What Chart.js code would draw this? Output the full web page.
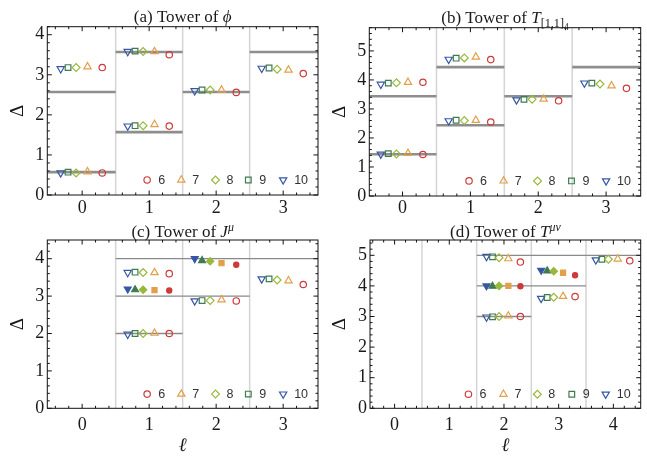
<!DOCTYPE html>
<html><head><meta charset="utf-8">
<script src="https://cdn.jsdelivr.net/npm/chart.js@4.4.1/dist/chart.umd.min.js"></script>
<style>
html,body{margin:0;padding:0;background:#fff;}
#wrap{position:relative;width:647px;height:458px;background:#fff;}
canvas{position:absolute;left:0;top:0;}
</style></head><body>
<div id="wrap">
<canvas id="pa" width="647" height="458"></canvas>
<canvas id="pb" width="647" height="458"></canvas>
<canvas id="pc" width="647" height="458"></canvas>
<canvas id="pd" width="647" height="458"></canvas>
</div>
<script>
// ---------------- data ----------------
const sizes = [6, 7, 8, 9, 10];
const xShift = [0.30, 0.08, -0.09, -0.21, -0.32];
const colors = ['#cd3a3a', '#e3a04a', '#98b83c', '#3e7b50', '#3656a6'];
const openShape = ['circle', 'triangle', 'rectRot', 'rect', 'triangleDown'];
const filledShape = ['circle', 'rect', 'rectRot', 'triangle', 'triangleDown'];

// (a) Tower of phi
const ellA = [0, 0, 1, 1, 2, 3];
const filledA = [0, 0, 0, 0, 0, 0];
const deltaA6 = [0.55, 3.18, 1.72, 3.50, 2.56, 3.03];
const deltaA7 = [0.58, 3.20, 1.76, 3.58, 2.62, 3.12];
const deltaA8 = [0.55, 3.18, 1.73, 3.58, 2.62, 3.14];
const deltaA9 = [0.57, 3.18, 1.73, 3.59, 2.62, 3.17];
const deltaA10 = [0.55, 3.15, 1.72, 3.58, 2.60, 3.16];
const refFromA = [-0.5, -0.5, 0.5, 0.5, 1.5, 2.5];
const refToA = [0.5, 0.5, 1.5, 1.5, 2.5, 3.5];
const refDeltaA = [0.57, 2.57, 1.57, 3.57, 2.57, 3.57];

// (b) Tower of T_[1,1]_4
const ellB = [0, 0, 1, 1, 2, 3];
const filledB = [0, 0, 0, 0, 0, 0];
const deltaB6 = [1.43, 3.92, 2.55, 4.70, 3.28, 3.71];
const deltaB7 = [1.47, 3.92, 2.61, 4.79, 3.34, 3.80];
const deltaB8 = [1.45, 3.90, 2.60, 4.76, 3.33, 3.86];
const deltaB9 = [1.46, 3.89, 2.61, 4.75, 3.33, 3.89];
const deltaB10 = [1.44, 3.85, 2.59, 4.71, 3.31, 3.89];
const refFromB = [-0.5, -0.5, 0.5, 0.5, 1.5, 2.5];
const refToB = [0.5, 0.5, 1.5, 1.5, 2.5, 3.5];
const refDeltaB = [1.44, 3.44, 2.44, 4.44, 3.44, 4.44];

// (c) Tower of J^mu
const ellC = [1, 1, 1, 2, 2, 3];
const filledC = [0, 1, 0, 0, 1, 0];
const deltaC6 = [2.00, 3.15, 3.60, 2.87, 3.84, 3.31];
const deltaC7 = [2.01, 3.16, 3.63, 2.90, 3.88, 3.41];
const deltaC8 = [2.00, 3.17, 3.63, 2.88, 3.93, 3.43];
const deltaC9 = [2.00, 3.17, 3.64, 2.88, 3.95, 3.46];
const deltaC10 = [1.98, 3.19, 3.63, 2.87, 4.00, 3.46];
const refFromC = [0.5, 0.5, 0.5];
const refToC = [1.5, 2.5, 3.5];
const refDeltaC = [2, 3, 4];

// (d) Tower of T^{mu nu}
const ellD = [2, 2, 2, 3, 3, 4];
const filledD = [0, 1, 0, 0, 1, 0];
const deltaD6 = [3.00, 3.99, 4.78, 3.65, 4.35, 4.82];
const deltaD7 = [3.02, 4.00, 4.89, 3.66, 4.43, 4.88];
const deltaD8 = [3.00, 4.00, 4.92, 3.63, 4.48, 4.87];
const deltaD9 = [2.99, 3.99, 4.95, 3.62, 4.49, 4.87];
const deltaD10 = [2.98, 4.00, 4.96, 3.59, 4.51, 4.85];
const refFromD = [1.5, 1.5, 1.5];
const refToD = [2.5, 3.5, 4.5];
const refDeltaD = [3, 4, 5];

const dividersABC = [0.5, 1.5, 2.5];
const dividersD = [0.5, 1.5, 2.5, 3.5];
const xTicksABC = [0, 1, 2, 3];
const xTicksD = [0, 1, 2, 3, 4];
const yTicksA = [0, 1, 2, 3, 4];
const yTicksB = [0, 1, 2, 3, 4, 5];
const yTicksC = [0, 1, 2, 3, 4];
const yTicksD = [0, 1, 2, 3, 4, 5];

// ---------------- rendering ----------------
const W = 647, H = 458;
const SERIF = '"Liberation Serif", "Times New Roman", serif';
const SANS = '"Liberation Sans", Arial, sans-serif';
const INK = '#1a1a1a';

function radiusFor(shape, filled) {
  if (shape === 'circle') return filled ? 2.6 : 3.2;
  if (shape === 'rect') return filled ? 3.6 : 4.0;
  if (shape === 'rectRot') return filled ? 3.7 : 3.9;
  return filled ? 4.0 : 4.2;
}

function markerDatasets(ell, filled, series) {
  const out = [];
  series.forEach((vals, i) => {
    [0, 1].forEach(f => {
      const pts = [];
      vals.forEach((v, k) => { if (filled[k] === f) pts.push({x: ell[k] + xShift[i], y: v}); });
      if (!pts.length) return;
      const shape = f ? filledShape[i] : openShape[i];
      out.push({
        label: 'N=' + sizes[i] + (f ? ' (filled)' : ''),
        data: pts,
        order: 0,
        pointStyle: shape === 'triangleDown' ? 'triangle' : shape,
        pointRotation: shape === 'triangleDown' ? 180 : 0,
        pointRadius: radiusFor(shape, f),
        pointHoverRadius: radiusFor(shape, f),
        pointBorderWidth: 1.2,
        pointBorderColor: colors[i],
        pointBackgroundColor: f ? colors[i] : 'rgba(0,0,0,0)',
        showLine: false
      });
    });
  });
  return out;
}

function refDatasets(P) {
  return P.refDelta.map((v, k) => {
    const a = P.refFrom[k] <= -0.5 ? P.x[0] : P.refFrom[k];
    const b = P.refTo[k] >= P.x[1] - 0.05 ? P.x[1] : P.refTo[k];
    return {
      label: 'ref', data: [{x: a, y: v}, {x: b, y: v}], showLine: true,
      borderColor: P.refColor, borderWidth: P.refWidth, pointRadius: 0, pointHoverRadius: 0,
      pointHitRadius: 0, order: 2, clip: 0
    };
  });
}

function drawRich(ctx, parts, cx, baseY, size) {
  const fontOf = p => (p.it ? 'italic ' : '') + (size * (p.s || 1)).toFixed(1) + 'px ' + SERIF;
  let total = 0;
  parts.forEach(p => { ctx.font = fontOf(p); p.w = ctx.measureText(p.t).width; total += p.w; });
  let x = cx - total / 2;
  ctx.textAlign = 'left'; ctx.textBaseline = 'alphabetic'; ctx.fillStyle = INK;
  parts.forEach(p => { ctx.font = fontOf(p); ctx.fillText(p.t, x, baseY + (p.dy || 0)); x += p.w; });
}

function deco(P) {
  return {
    id: 'deco_' + P.id,
    beforeDatasetsDraw(chart) {
      const {ctx, chartArea: a, scales: {x}} = chart;
      ctx.save();
      ctx.strokeStyle = '#d4d4d4'; ctx.lineWidth = 1.5;
      P.dividers.forEach(v => {
        const px = x.getPixelForValue(v);
        ctx.beginPath(); ctx.moveTo(px, a.top); ctx.lineTo(px, a.bottom); ctx.stroke();
      });
      ctx.restore();
    },
    afterDatasetsDraw(chart) {
      const {ctx, chartArea: a, scales: {x, y}} = chart;
      ctx.save();
      // frame
      ctx.strokeStyle = '#111'; ctx.lineWidth = 1;
      ctx.strokeRect(a.left, a.top, a.right - a.left, a.bottom - a.top);
      // ticks
      ctx.beginPath();
      const step = 0.2;
      for (let v = Math.ceil(x.min / step - 1e-9) * step; v <= x.max + 1e-9; v += step) {
        const major = Math.abs(v - Math.round(v)) < 1e-6;
        const L = major ? 4.5 : 2.5;
        const px = x.getPixelForValue(v);
        ctx.moveTo(px, a.bottom); ctx.lineTo(px, a.bottom - L);
        ctx.moveTo(px, a.top); ctx.lineTo(px, a.top + L);
      }
      for (let v = Math.ceil(y.min / step - 1e-9) * step; v <= y.max + 1e-9; v += step) {
        const major = Math.abs(v - Math.round(v)) < 1e-6;
        const L = major ? 4.5 : 2.5;
        const py = y.getPixelForValue(v);
        ctx.moveTo(a.left, py); ctx.lineTo(a.left + L, py);
        ctx.moveTo(a.right, py); ctx.lineTo(a.right - L, py);
      }
      ctx.stroke();
      // legend
      const ly = y.getPixelForValue(P.legend.y);
      P.legend.xs.forEach((lx, i) => {
        const px = x.getPixelForValue(lx);
        const shape = openShape[i];
        ctx.fillStyle = 'rgba(0,0,0,0)';
        ctx.strokeStyle = colors[i];
        ctx.lineWidth = 1.2;
        Chart.helpers.drawPoint(ctx, {
          pointStyle: shape === 'triangleDown' ? 'triangle' : shape,
          rotation: shape === 'triangleDown' ? 180 : 0,
          radius: radiusFor(shape, 0), borderWidth: 1.2
        }, px, ly);
        ctx.fillStyle = '#333';
        ctx.font = '12.5px ' + SANS;
        ctx.textAlign = 'left'; ctx.textBaseline = 'middle';
        ctx.fillText(String(sizes[i]), px + P.legend.dx, ly + 0.5);
      });
      // panel title
      drawRich(ctx, P.title, (a.left + a.right) / 2, a.top - P.titleGap, 17);
      ctx.restore();
    }
  };
}

function makeChart(P) {
  const yW = 47;
  const xH = P.xTitle ? 49 : 30;
  const datasets = [...markerDatasets(P.ell, P.filled, P.series), ...refDatasets(P)];
  return new Chart(document.getElementById(P.id), {
    type: 'scatter',
    data: {datasets},
    options: {
      responsive: false, animation: false, devicePixelRatio: 1,
      events: [],
      layout: {padding: {left: P.plot.l - yW, top: P.plot.t, right: W - P.plot.r, bottom: H - P.plot.b - xH}},
      plugins: {legend: {display: false}, tooltip: {enabled: false}},
      scales: {
        x: {
          type: 'linear', position: 'bottom', min: P.x[0], max: P.x[1],
          grid: {display: false, drawTicks: false}, border: {display: false},
          ticks: {font: {family: SERIF, size: 18}, color: INK, padding: P.xPad, maxRotation: 0, autoSkip: false},
          afterBuildTicks: s => { s.ticks = P.xTicks.map(v => ({value: v})); },
          afterFit: s => { s.height = xH; },
          title: P.xTitle
            ? {display: true, text: 'ℓ', color: INK, font: {family: SERIF, size: 19, style: 'italic'}, padding: {top: 0, bottom: 0}}
            : {display: false}
        },
        y: {
          type: 'linear', position: 'left', min: P.y[0], max: P.y[1],
          grid: {display: false, drawTicks: false}, border: {display: false},
          ticks: {font: {family: SERIF, size: 18}, color: INK, padding: 3, autoSkip: false},
          afterBuildTicks: s => { s.ticks = P.yTicks.map(v => ({value: v})); },
          afterFit: s => { s.width = yW; },
          title: {display: true, text: 'Δ', color: INK, font: {family: SERIF, size: 19}, padding: {top: 6, bottom: 0}}
        }
      }
    },
    plugins: [deco(P)]
  });
}

makeChart({
  id: 'pa', plot: {l: 47.3, t: 26.7, r: 318, b: 195}, x: [-0.52, 3.52], y: [0, 4.2],
  xTicks: xTicksABC, yTicks: yTicksA, xPad: 2.8, xTitle: false,
  ell: ellA, filled: filledA, series: [deltaA6, deltaA7, deltaA8, deltaA9, deltaA10],
  refFrom: refFromA, refTo: refToA, refDelta: refDeltaA, refColor: '#8e8e8e', refWidth: 2.6,
  dividers: dividersABC,
  legend: {xs: [0.97, 1.48, 1.99, 2.48, 3.0], y: 0.375, dx: 11},
  title: [{t: '(a) Tower of '}, {t: 'ϕ', it: true}], titleGap: 4.5
});
makeChart({
  id: 'pb', plot: {l: 369.3, t: 27.7, r: 640.7, b: 196}, x: [-0.49, 3.51], y: [0, 5.8],
  xTicks: xTicksABC, yTicks: yTicksB, xPad: 1.5, xTitle: false,
  ell: ellB, filled: filledB, series: [deltaB6, deltaB7, deltaB8, deltaB9, deltaB10],
  refFrom: refFromB, refTo: refToB, refDelta: refDeltaB, refColor: '#8e8e8e', refWidth: 2.6,
  dividers: dividersABC,
  legend: {xs: [0.98, 1.49, 1.99, 2.49, 3.0], y: 0.52, dx: 11},
  title: [{t: '(b) Tower of '}, {t: 'T', it: true}, {t: '[1,1]', s: 0.72, dy: 4.5}, {t: '4', s: 0.55, dy: 7.5}], titleGap: 4.8
});
makeChart({
  id: 'pc', plot: {l: 47.3, t: 240, r: 318, b: 408.3}, x: [-0.52, 3.52], y: [0, 4.5],
  xTicks: xTicksABC, yTicks: yTicksC, xPad: 6.5, xTitle: true,
  ell: ellC, filled: filledC, series: [deltaC6, deltaC7, deltaC8, deltaC9, deltaC10],
  refFrom: refFromC, refTo: refToC, refDelta: refDeltaC, refColor: '#8a8a8a', refWidth: 1.3,
  dividers: dividersABC,
  legend: {xs: [0.97, 1.48, 1.99, 2.48, 3.0], y: 0.38, dx: 11},
  title: [{t: '(c) Tower of '}, {t: 'J', it: true}, {t: 'μ', it: true, s: 0.7, dy: -6}], titleGap: 3.3
});
makeChart({
  id: 'pd', plot: {l: 370, t: 240, r: 640.7, b: 408.3}, x: [-0.45, 4.5], y: [0, 5.5],
  xTicks: xTicksD, yTicks: yTicksD, xPad: 6, xTitle: true,
  ell: ellD, filled: filledD, series: [deltaD6, deltaD7, deltaD8, deltaD9, deltaD10],
  refFrom: refFromD, refTo: refToD, refDelta: refDeltaD, refColor: '#8a8a8a', refWidth: 1.3,
  dividers: dividersD,
  legend: {xs: [1.35, 1.99, 2.61, 3.24, 3.86], y: 0.46, dx: 11},
  title: [{t: '(d) Tower of '}, {t: 'T', it: true}, {t: 'μν', it: true, s: 0.7, dy: -6}], titleGap: 3.3
});
</script>
</body></html>
